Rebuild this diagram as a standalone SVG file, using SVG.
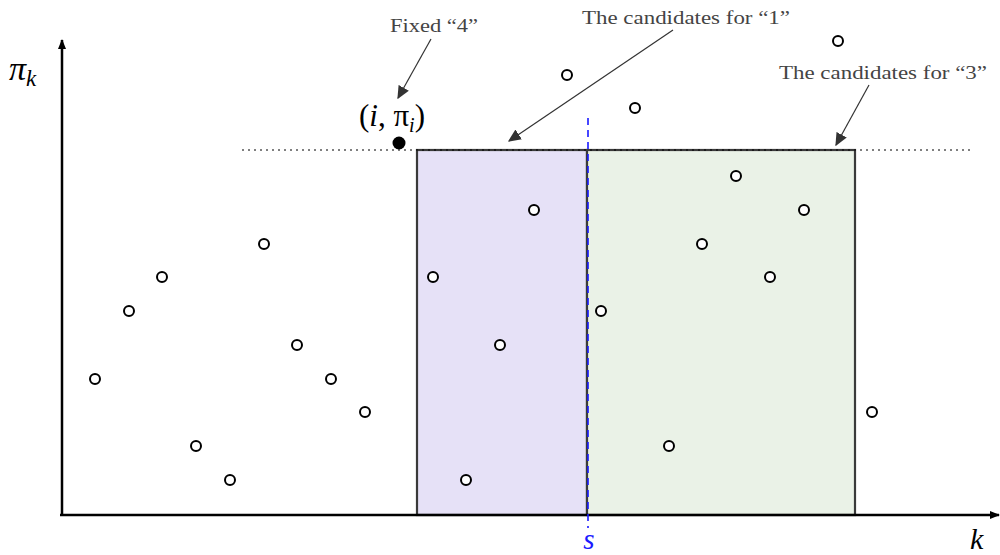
<svg xmlns="http://www.w3.org/2000/svg" width="1000" height="555" viewBox="0 0 1000 555">
<style>
.pt{fill:#fff;stroke:#000;stroke-width:2}
.ann{font-family:"Liberation Serif","Times New Roman",serif;font-size:18px;fill:#444;text-anchor:middle}
.math{font-family:"Liberation Serif","Times New Roman",serif;font-style:italic;fill:#000}
.ar{stroke:#333;stroke-width:1.2;fill:none;marker-end:url(#ah)}
</style>
<defs>
<marker id="ah" viewBox="0 0 10 10" refX="9" refY="5" markerWidth="13" markerHeight="13" markerUnits="userSpaceOnUse" orient="auto"><path d="M0,0.5 L10,5 L0,9.5 z" fill="#333"/></marker>
<marker id="axh" viewBox="0 0 10 10" refX="9" refY="5" markerWidth="10" markerHeight="10" markerUnits="userSpaceOnUse" orient="auto"><path d="M0,1 L10,5 L0,9 z" fill="#000"/></marker>
</defs>
<g id="regions">
<rect x="417" y="150" width="170" height="365" fill="#e6e1f7" stroke="#3a3a3a" stroke-width="2.2"/>
<rect x="587" y="150" width="268" height="365" fill="#eaf2e7" stroke="#3a3a3a" stroke-width="2.2"/>
</g>
<g id="axes">
<line x1="62" y1="515" x2="62" y2="40" stroke="#000" stroke-width="2.5" marker-end="url(#axh)"/>
<line x1="60" y1="515" x2="999" y2="515" stroke="#000" stroke-width="2.5" marker-end="url(#axh)"/>
<text x="9" y="80" class="math" font-size="34" font-style="normal">π<tspan font-size="23" font-style="italic" dy="6">k</tspan></text>
<text x="970" y="549" class="math" font-size="30">k</text>
</g>
<g id="guides">
<line x1="242" y1="150" x2="970" y2="150" stroke="#000" stroke-width="1" stroke-dasharray="2,4"/>
<line x1="588" y1="118" x2="588" y2="528" stroke="#1a1aff" stroke-width="1.6" stroke-dasharray="7,5"/>
<text x="589" y="549" class="math" font-size="29" text-anchor="middle" style="fill:#1a1aff">s</text>
</g>
<g id="points">
<circle class="pt" cx="95" cy="379" r="5"/>
<circle class="pt" cx="129" cy="311" r="5"/>
<circle class="pt" cx="162" cy="277" r="5"/>
<circle class="pt" cx="196" cy="446" r="5"/>
<circle class="pt" cx="230" cy="480" r="5"/>
<circle class="pt" cx="264" cy="244" r="5"/>
<circle class="pt" cx="297" cy="345" r="5"/>
<circle class="pt" cx="331" cy="379" r="5"/>
<circle class="pt" cx="365" cy="412" r="5"/>
<circle class="pt" cx="433" cy="277" r="5"/>
<circle class="pt" cx="466" cy="480" r="5"/>
<circle class="pt" cx="500" cy="345" r="5"/>
<circle class="pt" cx="534" cy="210" r="5"/>
<circle class="pt" cx="567" cy="75" r="5"/>
<circle class="pt" cx="601" cy="311" r="5"/>
<circle class="pt" cx="635" cy="108" r="5"/>
<circle class="pt" cx="669" cy="446" r="5"/>
<circle class="pt" cx="702" cy="244" r="5"/>
<circle class="pt" cx="736" cy="176" r="5"/>
<circle class="pt" cx="770" cy="277" r="5"/>
<circle class="pt" cx="804" cy="210" r="5"/>
<circle class="pt" cx="838" cy="41" r="5"/>
<circle class="pt" cx="872" cy="412" r="5"/>
</g>
<g id="fixed-point">
<circle cx="399" cy="143" r="6.5" fill="#000"/>
<text x="392" y="126" class="math" font-size="31" text-anchor="middle"><tspan font-style="normal">(</tspan>i<tspan font-style="normal">, π</tspan><tspan font-size="20" dy="6">i</tspan><tspan font-style="normal" dy="-6">)</tspan></text>
</g>
<g id="annotations">
<text x="434" y="32" class="ann" textLength="88" lengthAdjust="spacingAndGlyphs">Fixed “4”</text>
<text x="686" y="24" class="ann" textLength="208" lengthAdjust="spacingAndGlyphs">The candidates for “1”</text>
<text x="883" y="79" class="ann" textLength="208" lengthAdjust="spacingAndGlyphs">The candidates for “3”</text>
</g>
<g id="connectors">
<line class="ar" x1="431" y1="39" x2="398" y2="98"/>
<line class="ar" x1="673" y1="30" x2="509" y2="141"/>
<line class="ar" x1="869" y1="85" x2="836" y2="145"/>
</g>
</svg>
